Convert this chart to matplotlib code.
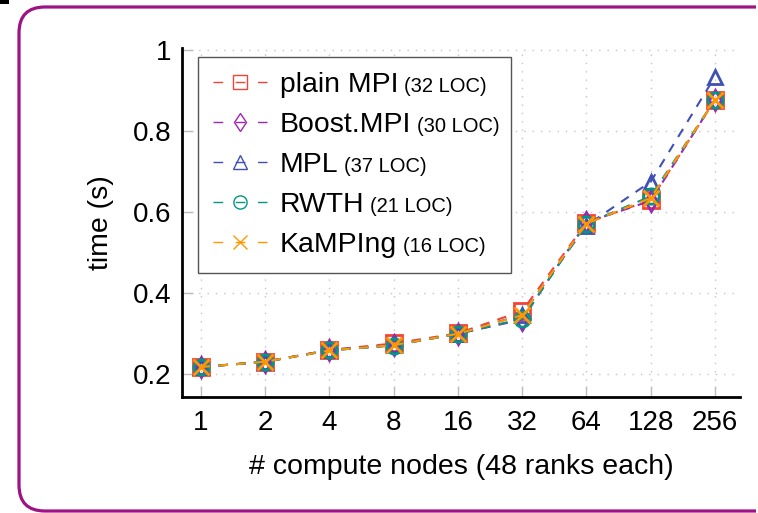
import numpy as np
import matplotlib
matplotlib.use("Agg")
import matplotlib.pyplot as plt
from matplotlib.patches import PathPatch, Rectangle
from matplotlib.path import Path
from matplotlib.transforms import IdentityTransform
from matplotlib.ticker import FixedLocator, FixedFormatter, NullLocator

# ================================
# Data
# ================================
nodes = [1, 2, 4, 8, 16, 32, 64, 128, 256]
tick_labels = ["1", "2", "4", "8", "16", "32", "64", "128", "256"]

plain_mpi = [0.218, 0.231, 0.260, 0.276, 0.301, 0.356, 0.574, 0.630, 0.877]
boost_mpi = [0.218, 0.231, 0.259, 0.272, 0.300, 0.335, 0.575, 0.628, 0.877]
mpl_lib = [0.218, 0.231, 0.260, 0.272, 0.300, 0.347, 0.567, 0.675, 0.934]
rwth = [0.218, 0.231, 0.259, 0.271, 0.300, 0.337, 0.572, 0.639, 0.877]
kamping = [0.218, 0.231, 0.259, 0.272, 0.300, 0.346, 0.572, 0.635, 0.877]

names = ["plain MPI", "Boost.MPI", "MPL", "RWTH", "KaMPIng"]
loc_notes = ["(32 LOC)", "(30 LOC)", "(37 LOC)", "(21 LOC)", "(16 LOC)"]
series = [plain_mpi, boost_mpi, mpl_lib, rwth, kamping]
colors = ["#F44336", "#9C27B0", "#3F51B5", "#009688", "#FF9800"]
markers = ["s", "d", "^", "o", "x"]
msizes = [12, 10, 10, 11, 11]

plt.rcParams["font.family"] = ["Liberation Sans", "DejaVu Sans"]

W, H = 758, 513
fig = plt.figure(figsize=(W / 100, H / 100), dpi=100)

# purple frame: left side with rounded corners, open to the right (pixel coords)
# (stop short of the edge, otherwise Agg's clipper draws a right border)
left, top, bottom, r = 19, H - 7, 2, 26
right = W - 2
verts = [(right, top), (left + r, top), (left, top), (left, top - r),
         (left, bottom + r), (left, bottom), (left + r, bottom), (right, bottom)]
codes = [Path.MOVETO, Path.LINETO, Path.CURVE3, Path.CURVE3,
         Path.LINETO, Path.CURVE3, Path.CURVE3, Path.LINETO]
fig.add_artist(PathPatch(Path(verts, codes), transform=IdentityTransform(),
                         facecolor="none", edgecolor="#9E1283", linewidth=2.3,
                         capstyle="butt"))
fig.add_artist(Rectangle((0, 1 - 4 / H), 9 / W, 4 / H, transform=fig.transFigure,
                         facecolor="black", edgecolor="none"))

ax = fig.add_axes([182 / W, 1 - 397 / H, (740 - 182) / W, (397 - 48) / H])

for vals, name, c, m, ms in zip(series, names, colors, markers, msizes):
    ax.plot(nodes, vals, color=c, marker=m, fillstyle="none", markersize=ms,
            markeredgewidth=2, linewidth=1.5, dashes=(4.5, 4), label=name)

ax.set_xscale("log", base=2)
ax.set_xlim(2 ** -0.295, 2 ** 8.39)
ax.set_ylim(0.144, 1.005)
ax.xaxis.set_major_locator(FixedLocator(nodes))
ax.xaxis.set_major_formatter(FixedFormatter(tick_labels))
ax.xaxis.set_minor_locator(NullLocator())
ax.set_yticks([0.2, 0.4, 0.6, 0.8, 1.0])
ax.set_yticklabels(["0.2", "0.4", "0.6", "0.8", "1"])

ax.grid(True, color="#c4c4c4", linestyle=(0, (1, 5)), linewidth=1)
ax.tick_params(direction="in", length=8, width=1, color="#bdbdbd",
               labelsize=20, pad=7.5)
ax.tick_params(axis="x", pad=9)

for side in ["top", "right"]:
    ax.spines[side].set_visible(False)
for side in ["left", "bottom"]:
    ax.spines[side].set_linewidth(2)

ax.set_xlabel("# compute nodes (48 ranks each)", fontsize=20.5, labelpad=13)
ax.set_ylabel("time (s)", fontsize=20.5, labelpad=14)

leg = ax.legend(loc="upper left", mode="expand",
                bbox_to_anchor=(16 / 558, 0.355, 313 / 558, 0.619),
                borderaxespad=0, fontsize=20.4, fancybox=False,
                edgecolor="#555555", framealpha=1, handlelength=1.9,
                handletextpad=0.45, labelspacing=0.49, borderpad=0.54)
leg.get_frame().set_linewidth(1)
for h in leg.legend_handles:
    h.set_markersize(9.5)
    h.set_markeredgewidth(1)
    h.set_linewidth(1)
    h.set_dashes((7, 9))

for txt, note in zip(leg.get_texts(), loc_notes):
    ax.annotate(note, xy=(1, 0), xycoords=txt, xytext=(4, 1.5),
                textcoords="offset points", ha="left", va="bottom",
                fontsize=14.5, zorder=10)

fig.savefig("out.png", dpi=100)
